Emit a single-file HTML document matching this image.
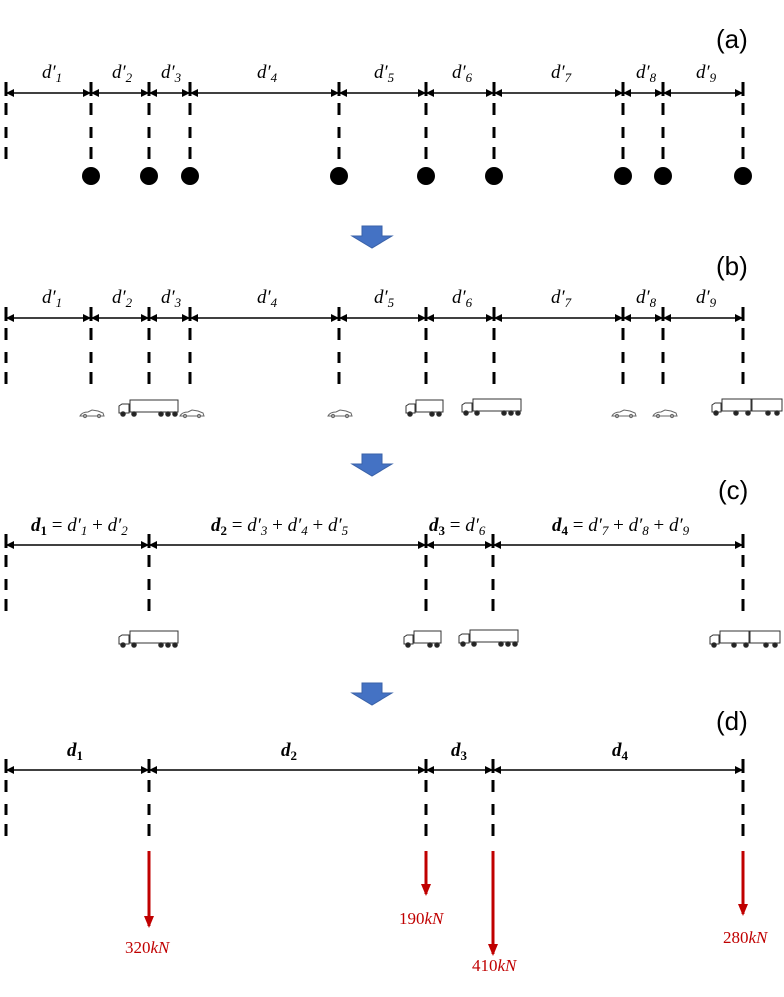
<!DOCTYPE html>
<html><head><meta charset="utf-8"><style>
html,body{margin:0;padding:0;background:#fff;}
svg{display:block;}
.lb{font-family:"Liberation Serif",serif;font-style:italic;font-size:19px;fill:#000;}
.pl{font-family:"Liberation Sans",sans-serif;font-size:26px;fill:#000;}
.rd{font-family:"Liberation Serif",serif;font-size:17px;fill:#c00000;}
</style></head><body>
<svg width="784" height="997" viewBox="0 0 784 997" xmlns="http://www.w3.org/2000/svg">
<defs>
<marker id="ah" markerWidth="8" markerHeight="8" refX="7" refY="4" orient="auto-start-reverse" markerUnits="userSpaceOnUse"><path d="M0,0 L8,4 L0,8 z" fill="#000"/></marker>
<marker id="rh" markerWidth="10" markerHeight="12" refX="5" refY="10" orient="0" markerUnits="userSpaceOnUse"><path d="M0,0 L10,0 L5,12 z" fill="#c00000"/></marker>
<g id="tk"><path d="M0,-11 V3 M0,10 V22 M0,34 V45 M0,54 V66" stroke="#000" stroke-width="3" fill="none"/></g>
<g id="bl"><path d="M-10,0 H10 V10 H20 L0,22 L-20,10 H-10 z" fill="#4472c4" stroke="#3a62a8" stroke-width="1"/></g>
<g id="car" fill="none" stroke="#666" stroke-width="1"><path d="M0,6 Q2,2 8,2 L12,0 L18,1 L23,3 L24,6 z"/><circle cx="5" cy="6" r="1.6"/><circle cx="19" cy="6" r="1.6"/></g>
<g id="trk" fill="none" stroke="#333" stroke-width="1"><rect x="11" y="0" width="48" height="12" fill="#fff"/><path d="M0,13 V6 L3,4 H10 V13 z" fill="#fff"/><g fill="#222"><circle cx="4" cy="14" r="2.3"/><circle cx="15" cy="14" r="2.3"/><circle cx="42" cy="14" r="2.3"/><circle cx="49" cy="14" r="2.3"/><circle cx="56" cy="14" r="2.3"/></g></g>
<g id="st" fill="none" stroke="#333" stroke-width="1"><rect x="10" y="0" width="27" height="12" fill="#fff"/><path d="M0,13 V6 L3,4 H9 V13 z" fill="#fff"/><g fill="#222"><circle cx="4" cy="14" r="2.3"/><circle cx="26" cy="14" r="2.3"/><circle cx="33" cy="14" r="2.3"/></g></g>
<g id="dt" fill="none" stroke="#333" stroke-width="1"><rect x="10" y="0" width="29" height="12" fill="#fff"/><rect x="40" y="0" width="30" height="12" fill="#fff"/><path d="M0,13 V6 L3,4 H9 V13 z" fill="#fff"/><g fill="#222"><circle cx="4" cy="14" r="2.3"/><circle cx="24" cy="14" r="2.3"/><circle cx="36" cy="14" r="2.3"/><circle cx="56" cy="14" r="2.3"/><circle cx="65" cy="14" r="2.3"/></g></g>
</defs>

<text class="pl" x="716" y="48">(a)</text>
<text class="pl" x="716" y="275">(b)</text>
<text class="pl" x="718" y="499">(c)</text>
<text class="pl" x="716" y="730">(d)</text>

<!-- PANEL A -->
<g transform="translate(0,93)">
<use href="#tk" x="6"/><use href="#tk" x="91"/><use href="#tk" x="149"/><use href="#tk" x="190"/><use href="#tk" x="339"/><use href="#tk" x="426"/><use href="#tk" x="494"/><use href="#tk" x="623"/><use href="#tk" x="663"/><use href="#tk" x="743"/>
<g stroke="#000" stroke-width="1.6" marker-start="url(#ah)" marker-end="url(#ah)">
<line x1="7" y1="0" x2="90" y2="0"/><line x1="92" y1="0" x2="148" y2="0"/><line x1="150" y1="0" x2="189" y2="0"/><line x1="191" y1="0" x2="338" y2="0"/><line x1="340" y1="0" x2="425" y2="0"/><line x1="427" y1="0" x2="493" y2="0"/><line x1="495" y1="0" x2="622" y2="0"/><line x1="624" y1="0" x2="662" y2="0"/><line x1="664" y1="0" x2="742" y2="0"/>
</g>
<g class="lb">
<text x="42" y="-15">d′<tspan font-size="13" dy="4">1</tspan></text>
<text x="112" y="-15">d′<tspan font-size="13" dy="4">2</tspan></text>
<text x="161" y="-15">d′<tspan font-size="13" dy="4">3</tspan></text>
<text x="257" y="-15">d′<tspan font-size="13" dy="4">4</tspan></text>
<text x="374" y="-15">d′<tspan font-size="13" dy="4">5</tspan></text>
<text x="452" y="-15">d′<tspan font-size="13" dy="4">6</tspan></text>
<text x="551" y="-15">d′<tspan font-size="13" dy="4">7</tspan></text>
<text x="636" y="-15">d′<tspan font-size="13" dy="4">8</tspan></text>
<text x="696" y="-15">d′<tspan font-size="13" dy="4">9</tspan></text>
</g>
<g fill="#000"><circle cx="91" cy="83" r="9"/><circle cx="149" cy="83" r="9"/><circle cx="190" cy="83" r="9"/><circle cx="339" cy="83" r="9"/><circle cx="426" cy="83" r="9"/><circle cx="494" cy="83" r="9"/><circle cx="623" cy="83" r="9"/><circle cx="663" cy="83" r="9"/><circle cx="743" cy="83" r="9"/></g>
</g>

<use href="#bl" x="372" y="226"/>

<!-- PANEL B -->
<g transform="translate(0,318)">
<use href="#tk" x="6"/><use href="#tk" x="91"/><use href="#tk" x="149"/><use href="#tk" x="190"/><use href="#tk" x="339"/><use href="#tk" x="426"/><use href="#tk" x="494"/><use href="#tk" x="623"/><use href="#tk" x="663"/><use href="#tk" x="743"/>
<g stroke="#000" stroke-width="1.6" marker-start="url(#ah)" marker-end="url(#ah)">
<line x1="7" y1="0" x2="90" y2="0"/><line x1="92" y1="0" x2="148" y2="0"/><line x1="150" y1="0" x2="189" y2="0"/><line x1="191" y1="0" x2="338" y2="0"/><line x1="340" y1="0" x2="425" y2="0"/><line x1="427" y1="0" x2="493" y2="0"/><line x1="495" y1="0" x2="622" y2="0"/><line x1="624" y1="0" x2="662" y2="0"/><line x1="664" y1="0" x2="742" y2="0"/>
</g>
<g class="lb">
<text x="42" y="-15">d′<tspan font-size="13" dy="4">1</tspan></text>
<text x="112" y="-15">d′<tspan font-size="13" dy="4">2</tspan></text>
<text x="161" y="-15">d′<tspan font-size="13" dy="4">3</tspan></text>
<text x="257" y="-15">d′<tspan font-size="13" dy="4">4</tspan></text>
<text x="374" y="-15">d′<tspan font-size="13" dy="4">5</tspan></text>
<text x="452" y="-15">d′<tspan font-size="13" dy="4">6</tspan></text>
<text x="551" y="-15">d′<tspan font-size="13" dy="4">7</tspan></text>
<text x="636" y="-15">d′<tspan font-size="13" dy="4">8</tspan></text>
<text x="696" y="-15">d′<tspan font-size="13" dy="4">9</tspan></text>
</g>
</g>
<use href="#car" x="80" y="410"/>
<use href="#trk" x="119" y="400"/>
<use href="#car" x="180" y="410"/>
<use href="#car" x="328" y="410"/>
<use href="#st" x="406" y="400"/>
<use href="#trk" x="462" y="399"/>
<use href="#car" x="612" y="410"/>
<use href="#car" x="653" y="410"/>
<use href="#dt" x="712" y="399"/>

<use href="#bl" x="372" y="454"/>

<!-- PANEL C -->
<g transform="translate(0,545)">
<use href="#tk" x="6"/><use href="#tk" x="149"/><use href="#tk" x="426"/><use href="#tk" x="493"/><use href="#tk" x="743"/>
<g stroke="#000" stroke-width="1.6" marker-start="url(#ah)" marker-end="url(#ah)">
<line x1="7" y1="0" x2="148" y2="0"/><line x1="150" y1="0" x2="425" y2="0"/><line x1="427" y1="0" x2="492" y2="0"/><line x1="494" y1="0" x2="742" y2="0"/>
</g>
<g class="lb">
<text x="31" y="-14"><tspan font-weight="bold">d</tspan><tspan font-size="13" dy="4" font-weight="bold" font-style="normal">1</tspan><tspan dy="-4" font-style="normal"> = </tspan>d′<tspan font-size="13" dy="4">1</tspan><tspan dy="-4" font-style="normal"> + </tspan>d′<tspan font-size="13" dy="4">2</tspan></text>
<text x="211" y="-14"><tspan font-weight="bold">d</tspan><tspan font-size="13" dy="4" font-weight="bold" font-style="normal">2</tspan><tspan dy="-4" font-style="normal"> = </tspan>d′<tspan font-size="13" dy="4">3</tspan><tspan dy="-4" font-style="normal"> + </tspan>d′<tspan font-size="13" dy="4">4</tspan><tspan dy="-4" font-style="normal"> + </tspan>d′<tspan font-size="13" dy="4">5</tspan></text>
<text x="429" y="-14"><tspan font-weight="bold">d</tspan><tspan font-size="13" dy="4" font-weight="bold" font-style="normal">3</tspan><tspan dy="-4" font-style="normal"> = </tspan>d′<tspan font-size="13" dy="4">6</tspan></text>
<text x="552" y="-14"><tspan font-weight="bold">d</tspan><tspan font-size="13" dy="4" font-weight="bold" font-style="normal">4</tspan><tspan dy="-4" font-style="normal"> = </tspan>d′<tspan font-size="13" dy="4">7</tspan><tspan dy="-4" font-style="normal"> + </tspan>d′<tspan font-size="13" dy="4">8</tspan><tspan dy="-4" font-style="normal"> + </tspan>d′<tspan font-size="13" dy="4">9</tspan></text>
</g>
</g>
<use href="#trk" x="119" y="631"/>
<use href="#st" x="404" y="631"/>
<use href="#trk" x="459" y="630"/>
<use href="#dt" x="710" y="631"/>

<use href="#bl" x="372" y="683"/>

<!-- PANEL D -->
<g transform="translate(0,770)">
<use href="#tk" x="6"/><use href="#tk" x="149"/><use href="#tk" x="426"/><use href="#tk" x="493"/><use href="#tk" x="743"/>
<g stroke="#000" stroke-width="1.6" marker-start="url(#ah)" marker-end="url(#ah)">
<line x1="7" y1="0" x2="148" y2="0"/><line x1="150" y1="0" x2="425" y2="0"/><line x1="427" y1="0" x2="492" y2="0"/><line x1="494" y1="0" x2="742" y2="0"/>
</g>
<g class="lb" font-weight="bold">
<text x="67" y="-14">d<tspan font-size="13" dy="4" font-style="normal">1</tspan></text>
<text x="281" y="-14">d<tspan font-size="13" dy="4" font-style="normal">2</tspan></text>
<text x="451" y="-14">d<tspan font-size="13" dy="4" font-style="normal">3</tspan></text>
<text x="612" y="-14">d<tspan font-size="13" dy="4" font-style="normal">4</tspan></text>
</g>
</g>
<g stroke="#c00000" stroke-width="3" marker-end="url(#rh)">
<line x1="149" y1="851" x2="149" y2="926"/>
<line x1="426" y1="851" x2="426" y2="894"/>
<line x1="493" y1="851" x2="493" y2="954"/>
<line x1="743" y1="851" x2="743" y2="914"/>
</g>
<text class="rd" x="125" y="953">320<tspan font-style="italic">kN</tspan></text>
<text class="rd" x="399" y="924">190<tspan font-style="italic">kN</tspan></text>
<text class="rd" x="472" y="971">410<tspan font-style="italic">kN</tspan></text>
<text class="rd" x="723" y="943">280<tspan font-style="italic">kN</tspan></text>
</svg>
</body></html>
